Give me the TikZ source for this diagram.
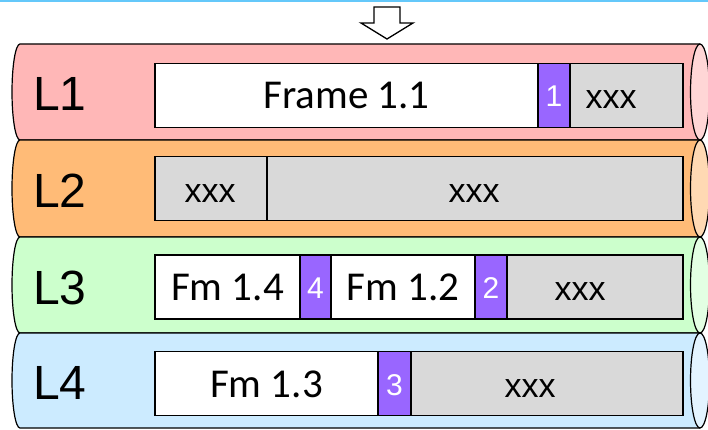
\documentclass[tikz,border=0pt]{standalone}
\usepackage{fontspec}
\setmainfont{Liberation Sans}
\newfontfamily\calibf{Carlito}
\definecolor{topblue}{RGB}{100,200,250}
\definecolor{pinkbody}{HTML}{FFB7B7}
\definecolor{pinkcap}{HTML}{FFD6D6}
\definecolor{orangebody}{HTML}{FFBB77}
\definecolor{orangecap}{HTML}{FFD9B3}
\definecolor{greenbody}{HTML}{CCFFCC}
\definecolor{greencap}{HTML}{E3FFE3}
\definecolor{bluebody}{HTML}{CCEBFF}
\definecolor{bluecap}{HTML}{E3F4FF}
\definecolor{segPurple}{HTML}{9966FF}
\definecolor{segGray}{HTML}{D9D9D9}
\newcommand\mycyl[6]{%
  \fill[#5] (700,#1) -- (20,#1) arc[start angle=270,end angle=90,x radius=8,y radius=#4] -- (700,#2) -- cycle;
  \draw[cylline] (700,#1) -- (20,#1) arc[start angle=270,end angle=90,x radius=8,y radius=#4] -- (700,#2);
  \draw[cylline, fill=#6] (700,#3) ellipse[x radius=9.5, y radius=#4];
}
\begin{document}
\begin{tikzpicture}[x=1pt,y=-1pt,
  cylline/.style={line width=1.2pt},
  seg/.style={draw, line width=1.6pt, anchor=west, minimum height=64pt, inner sep=0pt, outer sep=0pt, text height=27pt, text depth=0pt, font=\calibf\fontsize{41}{48}\selectfont},
  wseg/.style={seg, fill=white},
  gseg/.style={seg, fill=segGray},
  pseg/.style={seg, fill=segPurple, text=white, text height=23pt, font=\rmfamily\fontsize{30}{36}\selectfont},
  xt/.style={inner sep=0pt, text height=27pt, text depth=0pt, font=\rmfamily\fontsize{34}{40}\selectfont},
  lab/.style={anchor=base, inner sep=0pt, font=\rmfamily\fontsize{48}{56}\selectfont}]
\useasboundingbox (0,0) rectangle (708,430);
\fill[topblue] (0,0) rectangle (708,2.5);
\draw[line width=1.3pt, fill=white] (374,7) -- (400,7) -- (400,23) -- (413,23) -- (387,39) -- (361,23) -- (374,23) -- cycle;
% cylinders
\mycyl{44}{140}{92}{48}{pinkbody}{pinkcap}
\mycyl{140}{237}{188.5}{48.5}{orangebody}{orangecap}
\mycyl{237}{333}{285}{48}{greenbody}{greencap}
\mycyl{333}{428}{380.5}{47.5}{bluebody}{bluecap}
% labels
\node[lab] (l1) at (60,111) {L1};
\node[lab] (l2) at (60,207.5) {L2};
\node[lab] (l3) at (60,304) {L3};
\node[lab] (l4) at (60,399.5) {L4};
% L1 row
\node[wseg, minimum width=383pt] (f11) at (155,95.5) {Frame 1.1};
\node[pseg, minimum width=32pt] (p1) at (538,95.5) {1};
\node[gseg, minimum width=113pt] (g1) at (570,95.5) {};
\node[xt] (x1) at (611,95.5) {xxx};
% L2 row
\node[gseg, minimum width=112pt] (g21) at (155,188.5) {};
\node[gseg, minimum width=416pt] (g22) at (267,188.5) {};
\node[xt] (x21) at (210,188.5) {xxx};
\node[xt] (x22) at (474,188.5) {xxx};
% L3 row
\node[wseg, minimum width=145pt] (f14) at (155,287) {Fm 1.4};
\node[pseg, minimum width=31pt] (p4) at (300,287) {4};
\node[wseg, minimum width=144pt] (f12) at (331,287) {Fm 1.2};
\node[pseg, minimum width=32pt] (p2) at (475,287) {2};
\node[gseg, minimum width=176pt] (g3) at (507,287) {};
\node[xt] (x3) at (580,287) {xxx};
% L4 row
\node[wseg, minimum width=223pt] (f13) at (155,383.5) {Fm 1.3};
\node[pseg, minimum width=33pt] (p3) at (378,383.5) {3};
\node[gseg, minimum width=272pt] (g4) at (411,383.5) {};
\node[xt] (x4) at (530,383.5) {xxx};
\end{tikzpicture}
\end{document}
